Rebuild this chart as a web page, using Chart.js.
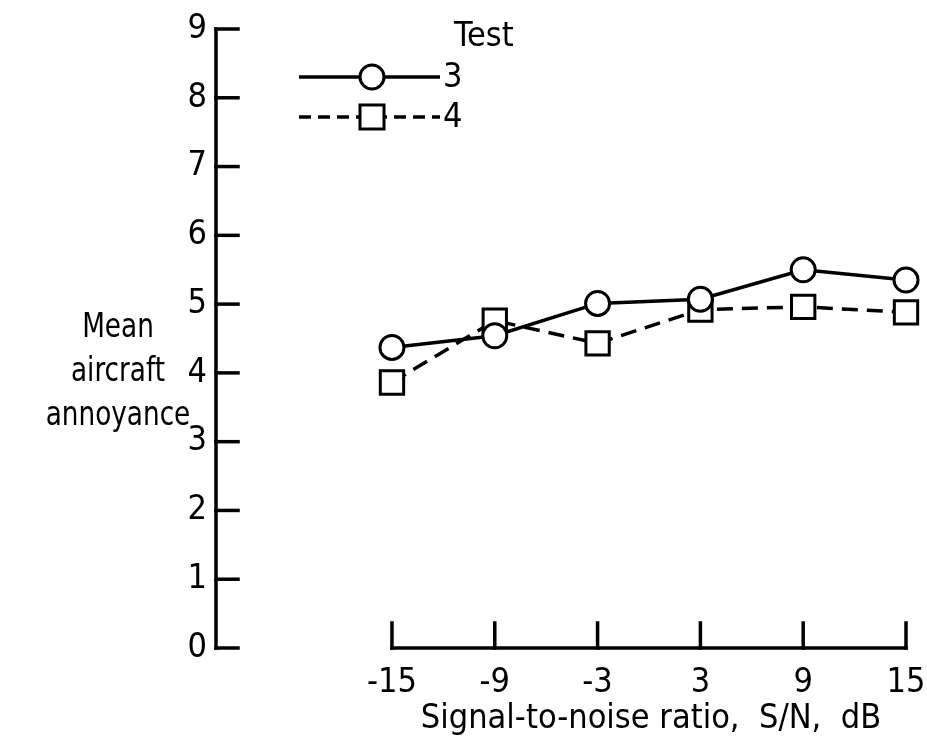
<!DOCTYPE html>
<html><head><meta charset="utf-8">
<script src="https://cdn.jsdelivr.net/npm/chart.js@4.4.1/dist/chart.umd.min.js"></script>
<style>html,body{margin:0;padding:0;background:#fff}canvas{display:block}</style>
</head><body>
<canvas id="c" width="927" height="741"></canvas>
<script>
// ---- data ----
const snrTicks = [-15, -9, -3, 3, 9, 15];
const yTicks = [0, 1, 2, 3, 4, 5, 6, 7, 8, 9];
const test3 = [4.37, 4.54, 5.01, 5.07, 5.50, 5.35];
const test4 = [3.86, 4.76, 4.43, 4.92, 4.96, 4.88];
const seriesNames = ['3', '4'];
const legendTitle = 'Test';
const xTitle = 'Signal-to-noise ratio,  S/N,  dB';
const yTitleLines = ['Mean', 'aircraft', 'annoyance'];

const FONT = '"DejaVu Sans Condensed", "DejaVu Sans", sans-serif';
const FS = 34;

const pts = (vals) => snrTicks.map((x, i) => ({x: x, y: vals[i]}));

const decor = {
  id: 'decor',
  beforeDatasetsDraw(chart) {
    const ctx = chart.ctx;
    const xs = chart.scales.x, ys = chart.scales.y;
    ctx.save();
    ctx.strokeStyle = '#000';
    ctx.lineWidth = 3.5;
    ctx.lineCap = 'square';
    const ax = chart.chartArea.left;
    ctx.beginPath();
    ctx.moveTo(ax, ys.getPixelForValue(yTicks[yTicks.length - 1]));
    ctx.lineTo(ax, ys.getPixelForValue(yTicks[0]));
    ctx.stroke();
    yTicks.forEach(v => {
      const py = ys.getPixelForValue(v);
      ctx.beginPath(); ctx.moveTo(ax, py); ctx.lineTo(ax + 22, py); ctx.stroke();
    });
    const by = ys.getPixelForValue(0);
    ctx.beginPath();
    ctx.moveTo(xs.getPixelForValue(snrTicks[0]), by);
    ctx.lineTo(xs.getPixelForValue(snrTicks[snrTicks.length - 1]), by);
    ctx.stroke();
    snrTicks.forEach(v => {
      const px = xs.getPixelForValue(v);
      ctx.beginPath(); ctx.moveTo(px, by); ctx.lineTo(px, by - 25); ctx.stroke();
    });
    ctx.restore();
  },
  afterDraw(chart) {
    const ctx = chart.ctx;
    ctx.save();
    ctx.fillStyle = '#000';
    ctx.font = FS + 'px ' + FONT;
    ctx.textBaseline = 'middle';
    ctx.textAlign = 'center';
    yTitleLines.forEach((t, i) => {
      ctx.save();
      ctx.translate(118, 328 + i * 44);
      ctx.scale(0.86, 1);
      ctx.fillText(t, 0, 0);
      ctx.restore();
    });
    ctx.fillText(xTitle, 651, 719);
    ctx.textAlign = 'left';
    ctx.fillText(legendTitle, 454, 37);
    ctx.fillText(seriesNames[0], 443, 78);
    ctx.fillText(seriesNames[1], 443, 118);
    ctx.strokeStyle = '#000';
    ctx.lineWidth = 3.5;
    ctx.beginPath(); ctx.moveTo(299, 77); ctx.lineTo(440, 77); ctx.stroke();
    ctx.setLineDash([12, 7]);
    ctx.beginPath(); ctx.moveTo(299, 117); ctx.lineTo(440, 117); ctx.stroke();
    ctx.setLineDash([]);
    ctx.fillStyle = '#fff';
    ctx.lineWidth = 3;
    ctx.beginPath(); ctx.arc(372, 77, 12, 0, Math.PI * 2); ctx.fill(); ctx.stroke();
    ctx.fillRect(360, 105, 24, 24); ctx.strokeRect(360, 105, 24, 24);
    ctx.restore();
  }
};

new Chart(document.getElementById('c'), {
  type: 'line',
  data: {
    datasets: [
      {
        label: seriesNames[0], data: pts(test3),
        borderColor: '#000', borderWidth: 3.5, backgroundColor: '#fff',
        pointStyle: 'circle', pointRadius: 12, pointBorderWidth: 3,
        pointBackgroundColor: '#fff', pointBorderColor: '#000', tension: 0
      },
      {
        label: seriesNames[1], data: pts(test4),
        borderColor: '#000', borderWidth: 3.5, borderDash: [16, 9], backgroundColor: '#fff',
        pointStyle: 'rect', pointRadius: 16.5, pointBorderWidth: 3,
        pointBackgroundColor: '#fff', pointBorderColor: '#000', tension: 0
      }
    ]
  },
  options: {
    responsive: false,
    animation: false,
    devicePixelRatio: 1,
    clip: false,
    layout: {padding: {top: 29, right: 21, left: 0, bottom: 0}},
    plugins: {legend: {display: false}, tooltip: {enabled: false}},
    scales: {
      x: {
        type: 'linear', min: -25.27, max: 15,
        afterBuildTicks: (s) => { s.ticks = snrTicks.map(v => ({value: v})); },
        afterFit: (s) => { s.height = 93; s.paddingRight = 0; s.paddingLeft = 0; },
        grid: {display: false, drawTicks: false},
        border: {display: false},
        ticks: {color: '#000', font: {family: FONT, size: FS}, padding: 15, maxRotation: 0, autoSkip: false,
                callback: (v) => String(v)}
      },
      y: {
        type: 'linear', min: 0, max: 9,
        afterBuildTicks: (s) => { s.ticks = yTicks.map(v => ({value: v})); },
        afterFit: (s) => { s.width = 216; s.paddingTop = 0; s.paddingBottom = 0; },
        grid: {display: false, drawTicks: false},
        border: {display: false},
        ticks: {color: '#000', font: {family: FONT, size: FS}, padding: 9, callback: (v) => String(v)}
      }
    }
  },
  plugins: [decor]
});
</script>
</body></html>
